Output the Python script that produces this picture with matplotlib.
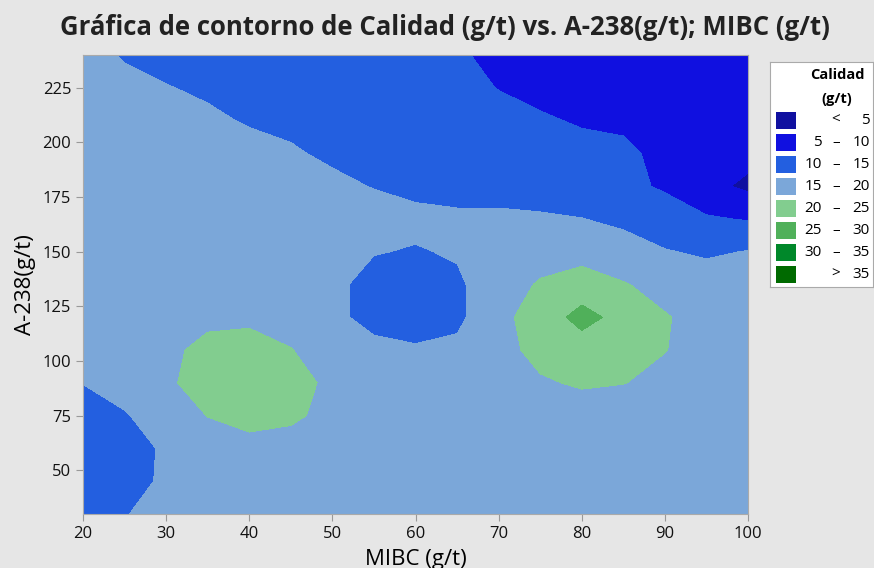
import numpy as np
import matplotlib.pyplot as plt
from matplotlib.patches import Rectangle

plt.rcParams['font.family'] = ['Open Sans', 'DejaVu Sans']

# grid
mibc = [20, 25, 30, 35, 40, 45, 50, 55, 60, 65, 70, 75, 80, 85, 90, 95, 100]
a238 = [240, 225, 210, 195, 180, 165, 150, 135, 120, 105, 90, 75, 60, 45, 30]
calidad = [
    [17.0, 14.5, 13.5, 12.8, 12.3, 12.0, 11.8, 11.5, 11.2, 10.6, 8.8, 8.0, 7.5, 7.0, 6.8, 6.5, 6.2],
    [18.0, 16.5, 15.2, 14.3, 13.6, 13.0, 12.6, 12.2, 11.8, 11.0, 9.9, 8.8, 8.0, 7.6, 7.2, 7.0, 6.8],
    [18.5, 18.0, 17.0, 15.8, 14.6, 14.0, 13.5, 13.0, 12.5, 12.0, 11.2, 10.5, 9.6, 9.2, 7.8, 7.3, 7.0],
    [19.0, 18.8, 18.3, 17.5, 16.5, 15.5, 14.2, 13.6, 13.2, 12.8, 12.5, 12.0, 11.3, 10.9, 8.8, 7.5, 6.5],
    [19.3, 19.2, 19.0, 18.5, 17.8, 17.0, 16.0, 14.8, 14.0, 13.6, 13.2, 12.8, 12.0, 11.0, 9.5, 6.5, 4.0],
    [19.3, 19.3, 19.3, 19.0, 18.6, 18.2, 17.7, 17.0, 16.0, 15.7, 15.9, 15.6, 15.1, 14.0, 12.0, 10.5, 9.7],
    [19.3, 19.4, 19.5, 19.5, 19.2, 18.5, 17.0, 15.2, 14.7, 15.4, 17.0, 17.8, 18.0, 17.0, 15.3, 14.3, 15.2],
    [19.0, 19.2, 19.5, 19.7, 19.5, 18.5, 16.0, 13.5, 13.0, 14.3, 17.5, 20.5, 22.5, 20.3, 18.5, 17.5, 17.2],
    [18.5, 19.0, 19.5, 19.5, 19.5, 18.8, 16.3, 13.2, 12.5, 14.0, 18.5, 22.5, 26.5, 23.5, 20.3, 18.5, 18.0],
    [18.0, 18.6, 19.5, 20.6, 21.0, 20.1, 18.5, 16.5, 15.6, 16.0, 18.5, 21.3, 22.75, 22.0, 20.1, 18.6, 18.0],
    [15.1, 17.0, 19.5, 21.3, 21.8, 21.2, 19.3, 17.8, 17.3, 17.3, 18.0, 19.5, 20.5, 20.1, 19.0, 18.2, 17.8],
    [13.0, 14.6, 17.5, 20.1, 21.0, 20.6, 19.0, 18.0, 17.8, 17.8, 17.8, 17.8, 17.9, 17.8, 17.6, 17.4, 17.2],
    [12.5, 13.5, 15.5, 17.8, 19.0, 18.6, 18.0, 17.8, 17.7, 17.6, 17.6, 17.6, 17.6, 17.5, 17.4, 17.2, 17.0],
    [12.8, 13.6, 15.6, 17.5, 18.3, 18.2, 17.9, 17.7, 17.6, 17.5, 17.5, 17.5, 17.5, 17.4, 17.3, 17.2, 17.0],
    [13.5, 14.8, 16.5, 17.5, 17.8, 17.8, 17.7, 17.6, 17.5, 17.4, 17.4, 17.4, 17.4, 17.3, 17.2, 17.1, 17.0],
]

levels = [0, 5, 10, 15, 20, 25, 30, 35, 50]
colors = ['#1010a0', '#1010e0', '#235fe0', '#7ba7d9', '#82cd8f', '#50b05a', '#00882a', '#006a00']
low_labels = ['', '5', '10', '15', '20', '25', '30', '']
high_labels = ['5', '10', '15', '20', '25', '30', '35', '35']
mid_labels = ['<', '\u2013', '\u2013', '\u2013', '\u2013', '\u2013', '\u2013', '>']

fig = plt.figure(figsize=(8.74, 5.68), dpi=100)
fig.patch.set_facecolor('#e6e6e6')

ax = fig.add_axes([83 / 874, 1 - 514 / 568, 665 / 874, 459 / 568])
X, Y = np.meshgrid(mibc, a238[::-1])
Z = np.array(calidad)[::-1]
ax.contourf(X, Y, Z, levels=levels, colors=colors)
ax.set_xlim(20, 100)
ax.set_ylim(30, 240)
ax.set_xticks(range(20, 101, 10))
ax.set_yticks(range(50, 226, 25))
ax.tick_params(labelsize=12, colors='#111111', length=5, color='#999999')
for s in ax.spines.values():
    s.set_color('#aaaaaa')
ax.set_xlabel('MIBC (g/t)', fontsize=16, labelpad=5)
ax.set_ylabel('A-238(g/t)', fontsize=16, labelpad=5)

fig.text(0.509, 0.951, 'Gráfica de contorno de Calidad (g/t) vs. A-238(g/t); MIBC (g/t)',
         ha='center', va='center', fontsize=18.5, fontweight='bold', color='#222222')

# legend box, in pixel units
lg = fig.add_axes([770 / 874, 1 - 287 / 568, 103 / 874, 225 / 568])
lg.set_xlim(770, 873)
lg.set_ylim(287, 62)
lg.set_xticks([])
lg.set_yticks([])
lg.set_facecolor('white')
for s in lg.spines.values():
    s.set_color('#aaaaaa')
lg.text(837, 75, 'Calidad', ha='center', va='center', fontsize=10.5, fontweight='bold')
lg.text(837, 99, '(g/t)', ha='center', va='center', fontsize=10.5, fontweight='bold')
for i, c in enumerate(colors):
    yc = 120.5 + 22 * i
    lg.add_patch(Rectangle((776, yc - 8.5), 20, 17, facecolor=c, edgecolor='none'))
    lg.text(822, yc, low_labels[i], ha='right', va='center', fontsize=11)
    lg.text(836, yc, mid_labels[i], ha='center', va='center', fontsize=11)
    lg.text(870, yc, high_labels[i], ha='right', va='center', fontsize=11)

fig.savefig('out.png', dpi=100, facecolor=fig.get_facecolor())
